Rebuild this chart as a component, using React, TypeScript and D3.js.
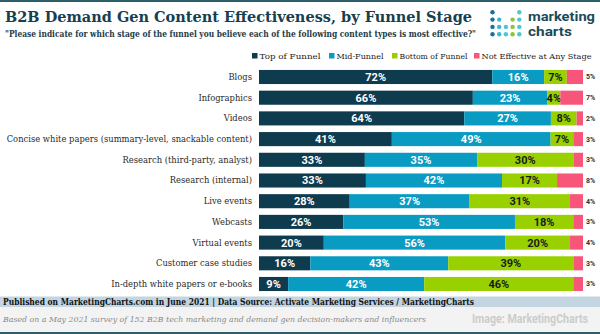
import React from "react";
import * as d3 from "d3";

const categories = [
  "Blogs",
  "Infographics",
  "Videos",
  "Concise white papers (summary-level, snackable content)",
  "Research (third-party, analyst)",
  "Research (internal)",
  "Live events",
  "Webcasts",
  "Virtual events",
  "Customer case studies",
  "In-depth white papers or e-books",
];
const seriesNames = ["Top of Funnel", "Mid-Funnel", "Bottom of Funnel", "Not Effective at Any Stage"];
const topOfFunnel = [72, 66, 64, 41, 33, 33, 28, 26, 20, 16, 9];
const midFunnel = [16, 23, 27, 49, 35, 42, 37, 53, 56, 43, 42];
const bottomOfFunnel = [7, 4, 8, 7, 30, 17, 31, 18, 20, 39, 46];
const notEffective = [5, 7, 2, 3, 3, 8, 4, 3, 4, 3, 3];

const colors = ["#0e3b4e", "#0a9bc3", "#99d100", "#f7567a"];
const labelColors = ["#ffffff", "#ffffff", "#1a1a1a"];

const W = 600;
const H = 334;
const serif = "'DejaVu Serif', serif";
const sans = "Roboto, 'Liberation Sans', sans-serif";

const logoDots: [number, number, string][] = [
  [0, 0, "#1b6f9e"], [4, 0, "#4cc9c8"],
  [0, 1, "#1b6f9e"], [1, 1, "#3fb6d0"], [3, 1, "#8cc63f"], [4, 1, "#4cc9c8"],
  [0, 2, "#1b6f9e"], [1, 2, "#3fb6d0"], [2, 2, "#4fc3dc"], [3, 2, "#8cc63f"], [4, 2, "#4cc9c8"],
  [0, 3, "#1b6f9e"], [1, 3, "#3fb6d0"], [2, 3, "#4fc3dc"], [3, 3, "#8cc63f"], [4, 3, "#4cc9c8"],
];

export default function App() {
  const rows = categories.map((c, i) => ({
    cat: c,
    s0: topOfFunnel[i],
    s1: midFunnel[i],
    s2: bottomOfFunnel[i],
    s3: notEffective[i],
  }));
  const keys = ["s0", "s1", "s2", "s3"];
  const stacked = d3.stack<any>().keys(keys).offset(d3.stackOffsetExpand)(rows);
  const raw = [topOfFunnel, midFunnel, bottomOfFunnel, notEffective];

  const x = d3.scaleLinear().domain([0, 1]).range([259, 583]);
  const y = d3
    .scaleBand<string>()
    .domain(categories)
    .range([66.65, 294.35])
    .paddingInner(0.32)
    .paddingOuter(0.16);

  const legendX = [252, 329, 392, 474];
  const legendW = [61, 47, 68, 110];

  return (
    <div style={{ position: "fixed", left: 0, top: 0 }}>
      <svg width={W} height={H} style={{ display: "block", background: "#fff" }}>
        <rect x={0} y={0} width={W} height={2} fill="#2d5e6c" />
        <text
          x={5}
          y={22}
          fontFamily={serif}
          fontWeight="bold"
          fontSize={15}
          fill="#17404f"
          textLength={467}
          lengthAdjust="spacingAndGlyphs"
        >
          B2B Demand Gen Content Effectiveness, by Funnel Stage
        </text>
        <text
          x={5}
          y={36.5}
          fontFamily={serif}
          fontWeight="bold"
          fontSize={8.6}
          fill="#1d3b47"
          textLength={471}
          lengthAdjust="spacingAndGlyphs"
        >
          "Please indicate for which stage of the funnel you believe each of the following content types is most effective?"
        </text>

        {/* logo */}
        {logoDots.map(([c, r, col], i) => (
          <circle key={i} cx={492.5 + c * 6.7} cy={12.3 + r * 7.3} r={2.2} fill={col} />
        ))}
        <text x={528} y={20.5} fontFamily={sans} fontWeight="bold" fontSize={13.5} fill="#1d4a5a" textLength={67} lengthAdjust="spacingAndGlyphs">
          marketing
        </text>
        <text x={528} y={36} fontFamily={sans} fontWeight="bold" fontSize={13.5} fill="#1d4a5a" textLength={44} lengthAdjust="spacingAndGlyphs">
          charts
        </text>

        {/* legend */}
        {seriesNames.map((s, i) => (
          <g key={s}>
            <rect x={legendX[i]} y={53} width={5.5} height={5.5} fill={colors[i]} />
            <text
              x={legendX[i] + 7.5}
              y={59}
              fontFamily={serif}
              fontSize={8.2}
              fill="#222"
              textLength={legendW[i]}
              lengthAdjust="spacingAndGlyphs"
            >
              {s}
            </text>
          </g>
        ))}

        {/* category labels */}
        {categories.map((c) => (
          <text
            key={c}
            x={252}
            y={(y(c) as number) + y.bandwidth() / 2}
            dy="0.35em"
            textAnchor="end"
            fontFamily={serif}
            fontSize={8.4}
            fill="#2a2a2a"
          >
            {c}
          </text>
        ))}

        {/* bars */}
        {stacked.map((layer, si) => (
          <g key={layer.key}>
            {layer.map((d, i) => {
              const x0 = x(d[0]);
              const x1 = x(d[1]);
              const yy = y(categories[i]) as number;
              return (
                <g key={i}>
                  <rect x={x0} y={yy} width={x1 - x0} height={y.bandwidth()} fill={colors[si]} />
                  {si < 3 && (
                    <text
                      x={(x0 + x1) / 2}
                      y={yy + y.bandwidth() / 2}
                      dy="0.36em"
                      textAnchor="middle"
                      fontFamily={sans}
                      fontWeight="bold"
                      fontSize={11}
                      fill={labelColors[si]}
                    >
                      {raw[si][i]}%
                    </text>
                  )}
                  {si === 3 && (
                    <text
                      x={586}
                      y={yy + y.bandwidth() / 2}
                      dy="0.35em"
                      fontFamily={sans}
                      fontWeight="bold"
                      fontSize={7}
                      fill="#333"
                    >
                      {raw[si][i]}%
                    </text>
                  )}
                </g>
              );
            })}
          </g>
        ))}

        {/* footer */}
        <rect x={0} y={296.5} width={W} height={10.5} fill="#c3d5e0" />
        <text
          x={3}
          y={305}
          fontFamily={serif}
          fontWeight="bold"
          fontSize={8.8}
          fill="#111"
          textLength={471}
          lengthAdjust="spacingAndGlyphs"
        >
          Published on MarketingCharts.com in June 2021 | Data Source: Activate Marketing Services / MarketingCharts
        </text>
        <rect x={0} y={307} width={W} height={25} fill="#f3f3f3" />
        <text
          x={3}
          y={322}
          fontFamily={serif}
          fontStyle="italic"
          fontSize={8}
          fill="#8a8a8a"
          textLength={423}
          lengthAdjust="spacingAndGlyphs"
        >
          Based on a May 2021 survey of 152 B2B tech marketing and demand gen decision-makers and influencers
        </text>
        <text
          x={588}
          y={323}
          textAnchor="end"
          fontFamily={sans}
          fontWeight="bold"
          fontSize={12.5}
          fill="#cccccc"
          textLength={116}
          lengthAdjust="spacingAndGlyphs"
        >
          Image: MarketingCharts
        </text>
        <rect x={0} y={332} width={W} height={2} fill="#2d5e6c" />
      </svg>
    </div>
  );
}
